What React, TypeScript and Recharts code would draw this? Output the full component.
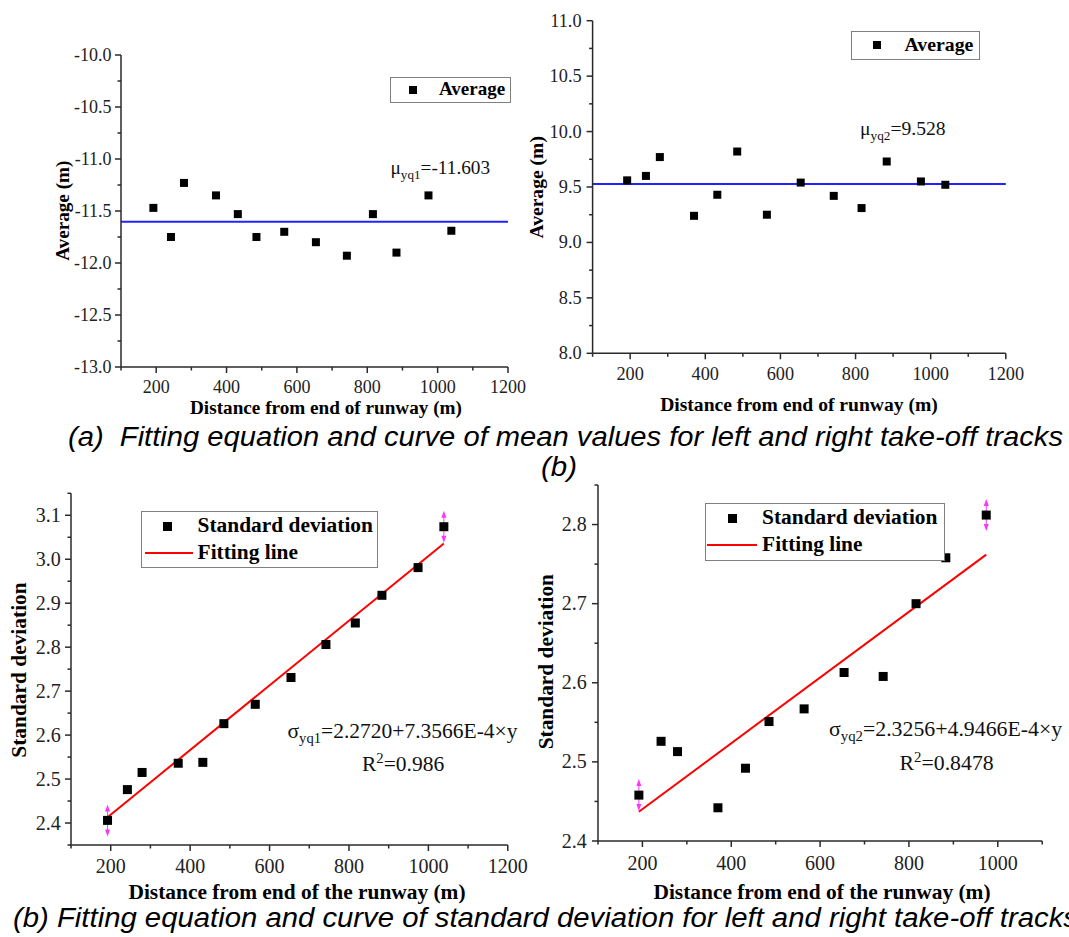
import React from 'react';
import { ScatterChart, Scatter, XAxis, YAxis, ReferenceLine, Legend } from 'recharts';

// distance from runway end (m), shared by all four panels
const DIST = [192, 242, 279, 370, 432, 485, 564, 654, 742, 816, 883, 974, 1039];

// (a) averages
const AVG_LEFT = [-11.47, -11.75, -11.23, -11.35, -11.53, -11.75, -11.7, -11.8, -11.93, -11.53, -11.9, -11.35, -11.69];
const AVG_RIGHT = [9.56, 9.6, 9.77, 9.24, 9.43, 9.82, 9.25, 9.54, 9.42, 9.31, 9.73, 9.55, 9.52];
const MEAN_LEFT = -11.603;
const MEAN_RIGHT = 9.528;

// (b) standard deviations (right track has 12 points)
const SD_LEFT = [2.406, 2.476, 2.515, 2.536, 2.538, 2.626, 2.67, 2.731, 2.806, 2.855, 2.918, 2.981, 3.074];
const SD_RIGHT = [2.458, 2.526, 2.513, 2.442, 2.492, 2.551, 2.567, 2.613, 2.608, 2.7, 2.758, 2.812];

// fitting line end points
const FIT_LEFT_X = [192, 1039];
const FIT_LEFT_Y = [2.413, 3.036];
const FIT_RIGHT_X = [192, 974];
const FIT_RIGHT_Y = [2.437, 2.762];

// ticks
const X_MAJOR_1200 = [200, 400, 600, 800, 1000, 1200];
const X_MINOR_1200 = [100, 300, 500, 700, 900, 1100];
const X_MAJOR_1000 = [200, 400, 600, 800, 1000];
const X_MINOR_1100 = [100, 300, 500, 700, 900, 1100];
const Y_MAJOR_A1 = [-13, -12.5, -12, -11.5, -11, -10.5, -10];
const Y_MINOR_A1 = [-12.75, -12.25, -11.75, -11.25, -10.75, -10.25];
const Y_MAJOR_A2 = [8, 8.5, 9, 9.5, 10, 10.5, 11];
const Y_MINOR_A2 = [8.25, 8.75, 9.25, 9.75, 10.25, 10.75];
const Y_MAJOR_B1 = [2.4, 2.5, 2.6, 2.7, 2.8, 2.9, 3.0, 3.1];
const Y_MINOR_B1 = [2.35, 2.45, 2.55, 2.65, 2.75, 2.85, 2.95, 3.05, 3.15];
const Y_MAJOR_B2 = [2.4, 2.5, 2.6, 2.7, 2.8];
const Y_MINOR_B2 = [2.45, 2.55, 2.65, 2.75, 2.85];

const SERIF = '"Liberation Serif", "Times New Roman", serif';
const SANS = '"Liberation Sans", Arial, sans-serif';
const AXIS = '#2a2a2a';

const pts = (xs: number[], ys: number[]) => ys.map((y, i) => ({ x: xs[i], y }));
const ends = <T,>(a: T[]) => [a[0], a[a.length - 1]];
const byNum = (a: number, b: number) => a - b;

const square = (s: number) => (p: any) => (
  <rect x={p.cx - s / 2} y={p.cy - s / 2} width={s} height={s} fill="#000" />
);

// magenta double arrow at the first / last point
const arrow = (p: any) => (
  <g fill="#ff33ff">
    <line x1={p.cx} x2={p.cx} y1={p.cy - 12} y2={p.cy + 12} stroke="#ff33ff" strokeWidth={1} />
    <path d={`M${p.cx} ${p.cy - 16} L${p.cx - 2.5} ${p.cy - 9} L${p.cx + 2.5} ${p.cy - 9} Z`} />
    <path d={`M${p.cx} ${p.cy + 16} L${p.cx - 2.5} ${p.cy + 9} L${p.cx + 2.5} ${p.cy + 9} Z`} />
  </g>
);

type Box = { left: number; top: number; width: number; height: number };
type Plot = { x0: number; x1: number; y0: number; y1: number };
type LegendRow = { kind: 'square' | 'line'; label: string; cy: number };
type LegendCfg = { left: number; top: number; w: number; h: number; mx: number; lx0: number; lx1: number; tx: number; fs: number; ms: number; rows: LegendRow[] };

function LegendBox({ cfg }: { cfg: LegendCfg }) {
  return (
    <div style={{ position: 'relative', width: cfg.w, height: cfg.h, boxSizing: 'border-box', border: '1.5px solid #808080', background: '#fff' }}>
      {cfg.rows.map(r => (
        <React.Fragment key={r.label}>
          {r.kind === 'square' ? (
            <div style={{ position: 'absolute', left: cfg.mx - cfg.ms / 2, top: r.cy - cfg.ms / 2, width: cfg.ms, height: cfg.ms, background: '#000' }} />
          ) : (
            <div style={{ position: 'absolute', left: cfg.lx0, top: r.cy - 1, width: cfg.lx1 - cfg.lx0, height: 2, background: '#ff0000' }} />
          )}
          <span style={{ position: 'absolute', left: cfg.tx, top: r.cy - cfg.fs * 0.6, lineHeight: `${cfg.fs * 1.2}px`, fontSize: cfg.fs, fontWeight: 700, fontFamily: SERIF, whiteSpace: 'nowrap', color: '#000' }}>
            {r.label}
          </span>
        </React.Fragment>
      ))}
    </div>
  );
}

interface PanelProps {
  box: Box; plot: Plot;
  xDomain: [number, number]; yDomain: [number, number];
  xMajor: number[]; xMinor: number[]; yMajor: number[]; yMinor: number[];
  fs: number; xGap: number; yGap: number;
  titleFs: number; xTitle: string; yTitle: string;
  xTitleAt: [number, number]; yTitleAt: [number, number];
  legend: LegendCfg;
  children: React.ReactNode;
}

function Panel(p: PanelProps) {
  const { box, plot } = p;
  const xTicks = [...p.xMajor, ...p.xMinor].sort(byNum);
  const yTicks = [...p.yMajor, ...p.yMinor].sort(byNum);
  const tx = p.xTitleAt[0] - box.left, ty = p.xTitleAt[1] - box.top;
  const yx = p.yTitleAt[0] - box.left, yy = p.yTitleAt[1] - box.top;
  const titleStyle = { fontFamily: SERIF, fontWeight: 700, fontSize: p.titleFs, fill: '#000' };

  return (
    <div style={{ position: 'absolute', left: box.left, top: box.top }}>
      <ScatterChart
        width={box.width}
        height={box.height}
        margin={{ top: plot.y0 - box.top, right: box.left + box.width - plot.x1, bottom: 0, left: 0 }}
      >
        <XAxis
          type="number" dataKey="x" domain={p.xDomain} ticks={xTicks} interval={0} allowDataOverflow
          height={box.top + box.height - plot.y1} tickSize={0} tickMargin={0} tickLine={false}
          axisLine={{ stroke: AXIS, strokeWidth: 1.5 }}
          tick={(t: any) => {
            const major = p.xMajor.includes(t.payload.value);
            return (
              <g>
                <line x1={t.x} x2={t.x} y1={t.y} y2={t.y + (major ? 6 : 3.5)} stroke={AXIS} strokeWidth={1.5} />
                {major && (
                  <text x={t.x} y={t.y + p.xGap} dy="0.33em" textAnchor="middle" fontSize={p.fs} fontFamily={SERIF} fill="#222">
                    {t.payload.value}
                  </text>
                )}
              </g>
            );
          }}
          label={{ content: () => <text x={tx} y={ty} dy="0.33em" textAnchor="middle" style={titleStyle}>{p.xTitle}</text> }}
        />
        <YAxis
          type="number" dataKey="y" domain={p.yDomain} ticks={yTicks} interval={0} allowDataOverflow
          width={plot.x0 - box.left} tickSize={0} tickMargin={0} tickLine={false}
          axisLine={{ stroke: AXIS, strokeWidth: 1.5 }}
          tick={(t: any) => {
            const major = p.yMajor.includes(t.payload.value);
            return (
              <g>
                <line x1={t.x} x2={t.x - (major ? 6 : 3.5)} y1={t.y} y2={t.y} stroke={AXIS} strokeWidth={1.5} />
                {major && (
                  <text x={t.x - p.yGap} y={t.y} dy="0.33em" textAnchor="end" fontSize={p.fs} fontFamily={SERIF} fill="#222">
                    {Number(t.payload.value).toFixed(1)}
                  </text>
                )}
              </g>
            );
          }}
          label={{
            content: () => (
              <text x={yx} y={yy} dy="0.33em" textAnchor="middle" transform={`rotate(-90 ${yx} ${yy})`} style={titleStyle}>
                {p.yTitle}
              </text>
            ),
          }}
        />
        {p.children}
        <Legend
          layout="vertical" verticalAlign="middle" align="center"
          wrapperStyle={{ left: p.legend.left - box.left, top: p.legend.top - box.top, width: p.legend.w, height: p.legend.h }}
          content={() => <LegendBox cfg={p.legend} />}
        />
      </ScatterChart>
    </div>
  );
}

function Sub({ base, sub, rest, sup }: { base: string; sub: string; rest: string; sup?: boolean }) {
  const d = sup ? -8 : 5;
  return (
    <>
      {base}
      <tspan dy={d} fontSize="0.68em">{sub}</tspan>
      <tspan dy={-d}>{rest}</tspan>
    </>
  );
}

export default function App() {
  const avgL = pts(DIST, AVG_LEFT);
  const avgR = pts(DIST, AVG_RIGHT);
  const sdL = pts(DIST, SD_LEFT);
  const sdR = pts(DIST, SD_RIGHT);
  const fitL = pts(FIT_LEFT_X, FIT_LEFT_Y);
  const fitR = pts(FIT_RIGHT_X, FIT_RIGHT_Y);
  const num = { fontFamily: SERIF, fill: '#111' };

  return (
    <div style={{ position: 'absolute', left: 0, top: 0, width: 1069, height: 937, background: '#fff', overflow: 'hidden' }}>
      <Panel
        box={{ left: 0, top: 0, width: 532, height: 425 }} plot={{ x0: 121, x1: 508, y0: 55, y1: 367 }}
        xDomain={[100, 1200]} yDomain={[-13, -10]}
        xMajor={X_MAJOR_1200} xMinor={X_MINOR_1200} yMajor={Y_MAJOR_A1} yMinor={Y_MINOR_A1}
        fs={18} xGap={19.7} yGap={9.5} titleFs={19.2}
        xTitle="Distance from end of runway (m)" yTitle="Average (m)"
        xTitleAt={[326, 408]} yTitleAt={[62.5, 210.7]}
        legend={{ left: 390, top: 76.7, w: 121, h: 26.5, mx: 22, lx0: 0, lx1: 0, tx: 48, fs: 19, ms: 8, rows: [{ kind: 'square', label: 'Average', cy: 12 }] }}
      >
        <ReferenceLine y={MEAN_LEFT} stroke="#2222ff" strokeWidth={2} />
        <Scatter data={avgL} shape={square(8)} isAnimationActive={false} />
      </Panel>

      <Panel
        box={{ left: 522, top: 0, width: 547, height: 425 }} plot={{ x0: 592.6, x1: 1005.8, y0: 20.7, y1: 353.3 }}
        xDomain={[100, 1200]} yDomain={[8, 11]}
        xMajor={X_MAJOR_1200} xMinor={X_MINOR_1200} yMajor={Y_MAJOR_A2} yMinor={Y_MINOR_A2}
        fs={18.3} xGap={20.7} yGap={11} titleFs={19.6}
        xTitle="Distance from end of runway (m)" yTitle="Average (m)"
        xTitleAt={[799, 405]} yTitleAt={[537, 187.3]}
        legend={{ left: 851, top: 31, w: 129, h: 28.5, mx: 24.5, lx0: 0, lx1: 0, tx: 52.5, fs: 19.8, ms: 8, rows: [{ kind: 'square', label: 'Average', cy: 12.5 }] }}
      >
        <ReferenceLine y={MEAN_RIGHT} stroke="#2222ff" strokeWidth={2} />
        <Scatter data={avgR} shape={square(8)} isAnimationActive={false} />
      </Panel>

      <Panel
        box={{ left: 0, top: 480, width: 532, height: 425 }} plot={{ x0: 71, x1: 507.8, y0: 493.3, y1: 845 }}
        xDomain={[100, 1200]} yDomain={[2.35, 3.15]}
        xMajor={X_MAJOR_1200} xMinor={X_MINOR_1200} yMajor={Y_MAJOR_B1} yMinor={Y_MINOR_B1}
        fs={20} xGap={21.7} yGap={10.2} titleFs={21.4}
        xTitle="Distance from end of the runway (m)" yTitle="Standard deviation"
        xTitleAt={[297, 892]} yTitleAt={[19.3, 670]}
        legend={{
          left: 140.6, top: 510.7, w: 237.4, h: 57, mx: 26, lx0: 3, lx1: 51, tx: 56, fs: 21.4, ms: 9,
          rows: [{ kind: 'square', label: 'Standard deviation', cy: 14.5 }, { kind: 'line', label: 'Fitting line', cy: 41 }],
        }}
      >
        <Scatter data={fitL} line={{ stroke: '#ff0000', strokeWidth: 2 }} shape={() => <g />} isAnimationActive={false} />
        <Scatter data={ends(sdL)} shape={arrow} isAnimationActive={false} />
        <Scatter data={sdL} shape={square(9)} isAnimationActive={false} />
      </Panel>

      <Panel
        box={{ left: 522, top: 480, width: 547, height: 425 }} plot={{ x0: 598, x1: 1042.2, y0: 485, y1: 841 }}
        xDomain={[100, 1100]} yDomain={[2.4, 2.85]}
        xMajor={X_MAJOR_1000} xMinor={X_MINOR_1100} yMajor={Y_MAJOR_B2} yMinor={Y_MINOR_B2}
        fs={20} xGap={22.3} yGap={11.3} titleFs={21.4}
        xTitle="Distance from end of the runway (m)" yTitle="Standard deviation"
        xTitleAt={[822, 892]} yTitleAt={[545.5, 661.7]}
        legend={{
          left: 704.6, top: 502.7, w: 240.7, h: 58.3, mx: 26.5, lx0: 1, lx1: 51, tx: 56.5, fs: 21.4, ms: 9,
          rows: [{ kind: 'square', label: 'Standard deviation', cy: 14.5 }, { kind: 'line', label: 'Fitting line', cy: 41.5 }],
        }}
      >
        <Scatter data={fitR} line={{ stroke: '#ff0000', strokeWidth: 2 }} shape={() => <g />} isAnimationActive={false} />
        <Scatter data={ends(sdR)} shape={arrow} isAnimationActive={false} />
        <Scatter data={sdR} shape={square(9)} isAnimationActive={false} />
      </Panel>

      {/* annotations + captions */}
      <svg width={1069} height={937} style={{ position: 'absolute', left: 0, top: 0, pointerEvents: 'none' }}>
        <text x={390.5} y={174} fontSize={19.3} style={num}><Sub base="μ" sub="yq1" rest="=-11.603" /></text>
        <text x={860} y={134.8} fontSize={19.6} style={num}><Sub base="μ" sub="yq2" rest="=9.528" /></text>
        <text x={287.5} y={737.5} fontSize={21.5} style={num}><Sub base="σ" sub="yq1" rest="=2.2720+7.3566E-4×y" /></text>
        <text x={362} y={771} fontSize={21.5} style={num}><Sub base="R" sub="2" rest="=0.986" sup /></text>
        <text x={829} y={735.8} fontSize={21.8} style={num}><Sub base="σ" sub="yq2" rest="=2.3256+4.9466E-4×y" /></text>
        <text x={899.5} y={770.3} fontSize={21.8} style={num}><Sub base="R" sub="2" rest="=0.8478" sup /></text>

        <text x={68} y={446} fontSize={27} fontStyle="italic" fontFamily={SANS} fill="#000" textLength={995} lengthAdjust="spacingAndGlyphs" style={{ whiteSpace: 'pre' }}>
          {'(a)  Fitting equation and curve of mean values for left and right take-off tracks'}
        </text>
        <text x={541} y={476} fontSize={27} fontStyle="italic" fontFamily={SANS} fill="#000" textLength={36} lengthAdjust="spacingAndGlyphs">
          (b)
        </text>
        <text x={13} y={927} fontSize={27} fontStyle="italic" fontFamily={SANS} fill="#000" textLength={1065} lengthAdjust="spacingAndGlyphs">
          (b) Fitting equation and curve of standard deviation for left and right take-off tracks
        </text>
      </svg>
    </div>
  );
}
